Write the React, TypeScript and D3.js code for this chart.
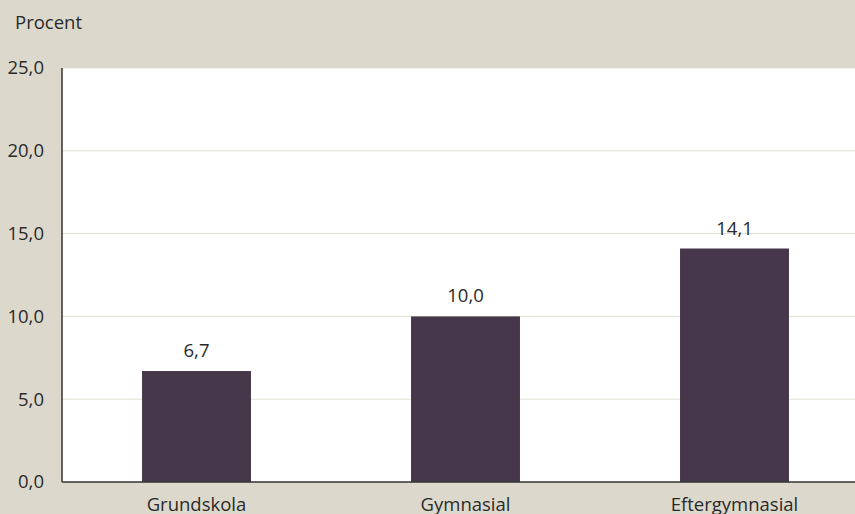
import React from "react";
import * as d3 from "d3";

const categories = ["Grundskola", "Gymnasial", "Eftergymnasial"];
const values = [6.7, 10.0, 14.1];
const yTicks = [0, 5, 10, 15, 20, 25];
const yLabel = "Procent";

const W = 855;
const H = 514;
const M = { left: 62, right: 869, top: 68, bottom: 482 };
const FONT = "'Open Sans', sans-serif";
const FS = 18.5;
const fmt = (v: number) => v.toFixed(1).replace(".", ",");

export default function App() {
  const x = d3
    .scaleBand<string>()
    .domain(categories)
    .range([M.left, M.right])
    .paddingInner(0.595)
    .paddingOuter(0.2975);
  const y = d3.scaleLinear().domain([0, 25]).range([M.bottom, M.top]);

  return (
    <svg
      width={W}
      height={H}
      style={{ position: "fixed", left: 0, top: 0, display: "block" }}
      fontFamily={FONT}
    >
      <rect x={0} y={0} width={W} height={H} fill="#dcd9cc" />
      <rect x={M.left} y={M.top} width={M.right - M.left} height={M.bottom - M.top} fill="#ffffff" />
      {yTicks.map((t) => (
        <g key={t}>
          {t > 0 && (
            <line x1={M.left} x2={M.right} y1={y(t)} y2={y(t)} stroke="#e2dfd3" strokeWidth={1} />
          )}
          <text x={44} y={y(t)} dy="0.35em" textAnchor="end" fontSize={FS} fill="#2a2a2a">
            {fmt(t)}
          </text>
        </g>
      ))}
      {categories.map((c, i) => (
        <g key={c}>
          <rect
            x={x(c)!}
            y={y(values[i])}
            width={x.bandwidth()}
            height={M.bottom - y(values[i])}
            fill="#46374b"
          />
          <text
            x={x(c)! + x.bandwidth() / 2}
            y={y(values[i]) - 14}
            textAnchor="middle"
            fontSize={FS}
            fill="#2a2a2a"
          >
            {fmt(values[i])}
          </text>
          <text
            x={x(c)! + x.bandwidth() / 2}
            y={511}
            textAnchor="middle"
            fontSize={FS}
            fill="#2a2a2a"
          >
            {c}
          </text>
        </g>
      ))}
      <line x1={M.left} x2={M.left} y1={M.top} y2={M.bottom} stroke="#333" strokeWidth={1.5} />
      <line x1={M.left} x2={M.right} y1={M.bottom} y2={M.bottom} stroke="#333" strokeWidth={1.5} />
      <text x={15} y={28.5} fontSize={FS} fill="#2a2a2a">
        {yLabel}
      </text>
    </svg>
  );
}
